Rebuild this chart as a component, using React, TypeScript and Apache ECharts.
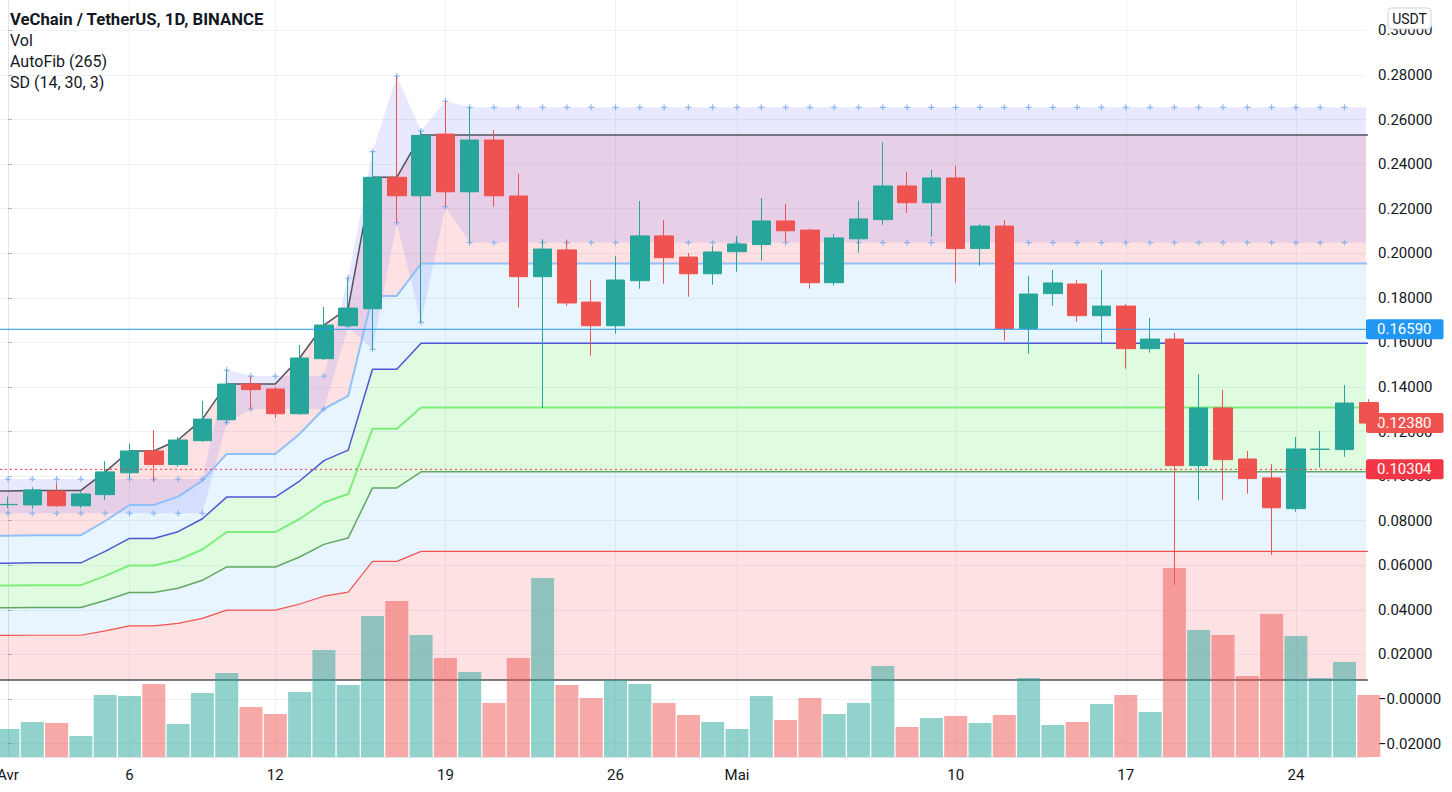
import React, { useEffect, useRef } from "react";
import * as echarts from "echarts";

const TITLE = "VeChain / TetherUS, 1D, BINANCE";
const LEGEND_LINES = ["Vol", "AutoFib (265)", "SD (14, 30, 3)"];

// x = day offset from 1 April 2021
const X_TICKS = [0, 5, 11, 18, 25, 30, 39, 46, 53];
const X_TICK_LABELS = ["Avr", "6", "12", "19", "26", "Mai", "10", "17", "24"];
const Y_TICKS = [-0.02, 0, 0.02, 0.04, 0.06, 0.08, 0.1, 0.12, 0.14, 0.16, 0.18, 0.2, 0.22, 0.24, 0.26, 0.28, 0.3];

// daily candles, 1 April .. 27 May 2021
const OPEN = [0.0872, 0.0871, 0.0933, 0.0867, 0.0917, 0.1015, 0.1113, 0.1052, 0.1159, 0.1253, 0.1413, 0.1391, 0.128, 0.1527, 0.1675, 0.1751, 0.2341, 0.2258, 0.2535, 0.2276, 0.2508, 0.2257, 0.1895, 0.2015, 0.1781, 0.1675, 0.1877, 0.2078, 0.1983, 0.1908, 0.2007, 0.2039, 0.2145, 0.2104, 0.1868, 0.2065, 0.2151, 0.2302, 0.2227, 0.2338, 0.2021, 0.2122, 0.1662, 0.1819, 0.1862, 0.172, 0.1763, 0.1572, 0.1615, 0.1047, 0.1306, 0.1077, 0.0992, 0.0854, 0.112, 0.1119, 0.133];
const CLOSE = [0.0873, 0.0938, 0.0867, 0.092, 0.1019, 0.1113, 0.1052, 0.1162, 0.1256, 0.1413, 0.1388, 0.128, 0.153, 0.1678, 0.1754, 0.2341, 0.2258, 0.2529, 0.2276, 0.2508, 0.2258, 0.1895, 0.2019, 0.1777, 0.1675, 0.188, 0.2078, 0.198, 0.1908, 0.2006, 0.2042, 0.2145, 0.2101, 0.1868, 0.2069, 0.2154, 0.2302, 0.2227, 0.2338, 0.2021, 0.2122, 0.1662, 0.1817, 0.1867, 0.172, 0.1763, 0.1572, 0.1615, 0.1047, 0.1306, 0.1074, 0.0989, 0.0858, 0.1122, 0.1121, 0.1328, 0.1238];
const HIGH = [0.0908, 0.095, 0.0971, 0.0931, 0.1067, 0.1147, 0.1207, 0.1176, 0.1337, 0.1476, 0.1449, 0.1401, 0.1588, 0.176, 0.1889, 0.2456, 0.2795, 0.2549, 0.2683, 0.2655, 0.2553, 0.2356, 0.2063, 0.206, 0.188, 0.1988, 0.2235, 0.2149, 0.2001, 0.2033, 0.2078, 0.2248, 0.2221, 0.211, 0.2087, 0.2235, 0.2499, 0.2365, 0.2374, 0.2392, 0.2131, 0.2149, 0.1898, 0.1925, 0.188, 0.1925, 0.1772, 0.171, 0.1642, 0.1458, 0.1387, 0.1113, 0.1054, 0.1176, 0.1203, 0.1409, 0.1345];
const LOW = [0.0856, 0.0853, 0.0863, 0.0856, 0.0893, 0.0989, 0.0975, 0.1042, 0.1153, 0.1238, 0.13, 0.1262, 0.1275, 0.1521, 0.1671, 0.1569, 0.2137, 0.169, 0.2209, 0.2048, 0.2209, 0.1756, 0.1306, 0.1763, 0.1541, 0.1639, 0.1841, 0.1864, 0.1805, 0.1859, 0.1917, 0.1967, 0.2052, 0.1841, 0.1855, 0.2003, 0.2128, 0.2182, 0.2074, 0.1868, 0.1944, 0.1608, 0.1549, 0.1765, 0.1693, 0.1599, 0.1482, 0.1554, 0.0512, 0.0893, 0.0893, 0.0921, 0.0647, 0.084, 0.1038, 0.1087, 0.1225];
// volume, millions of VET
const VOLUME_M = [140, 175, 170, 105, 310, 305, 365, 165, 320, 420, 250, 215, 325, 535, 360, 705, 780, 610, 495, 425, 270, 495, 895, 360, 295, 385, 365, 270, 210, 175, 140, 305, 185, 295, 215, 270, 455, 150, 195, 205, 170, 210, 395, 160, 175, 265, 310, 225, 945, 635, 610, 405, 715, 605, 395, 475, 310];
const VOLUME_AXIS_MAX = 3785;

// indicator values, 31 March .. 27 May 2021
const FIB_HIGH = [0.0933, 0.0933, 0.0936, 0.0936, 0.0936, 0.1019, 0.1113, 0.1113, 0.1162, 0.1256, 0.1413, 0.1413, 0.1413, 0.153, 0.1678, 0.1754, 0.2341, 0.2341,
  0.2531, 0.2531, 0.2531, 0.2531, 0.2531, 0.2531, 0.2531, 0.2531, 0.2531, 0.2531, 0.2531, 0.2531, 0.2531, 0.2531, 0.2531, 0.2531, 0.2531, 0.2531, 0.2531, 0.2531, 0.2531, 0.2531,
  0.2531, 0.2531, 0.2531, 0.2531, 0.2531, 0.2531, 0.2531, 0.2531, 0.2531, 0.2531, 0.2531, 0.2531, 0.2531, 0.2531, 0.2531, 0.2531, 0.2531, 0.2531];
const FIB_LOW = 0.00853;
const FIB_RATIOS = [0, 0.236, 0.382, 0.5, 0.618, 0.764, 1];
const RANGE_UPPER = [0.0987, 0.0987, 0.0987, 0.0987, 0.0987, 0.0987, 0.0987, 0.0987, 0.0987, 0.0987, 0.1476, 0.1449, 0.1449, 0.1449, 0.1449, 0.1889, 0.2456, 0.2795, 0.2549, 0.2683,
  0.2655, 0.2655, 0.2655, 0.2655, 0.2655, 0.2655, 0.2655, 0.2655, 0.2655, 0.2655, 0.2655, 0.2655, 0.2655, 0.2655, 0.2655, 0.2655, 0.2655, 0.2655, 0.2655,
  0.2655, 0.2655, 0.2655, 0.2655, 0.2655, 0.2655, 0.2655, 0.2655, 0.2655, 0.2655, 0.2655, 0.2655, 0.2655, 0.2655, 0.2655, 0.2655, 0.2655, 0.2655, 0.2655];
const RANGE_LOWER = [0.0833, 0.0833, 0.0833, 0.0833, 0.0833, 0.0833, 0.0833, 0.0833, 0.0833, 0.0833, 0.124, 0.1301, 0.1301, 0.1301, 0.1301, 0.1671, 0.1569, 0.2137, 0.169, 0.2209,
  0.2048, 0.2048, 0.2048, 0.2048, 0.2048, 0.2048, 0.2048, 0.2048, 0.2048, 0.2048, 0.2048, 0.2048, 0.2048, 0.2048, 0.2048, 0.2048, 0.2048, 0.2048, 0.2048,
  0.2048, 0.2048, 0.2048, 0.2048, 0.2048, 0.2048, 0.2048, 0.2048, 0.2048, 0.2048, 0.2048, 0.2048, 0.2048, 0.2048, 0.2048, 0.2048, 0.2048, 0.2048, 0.2048];

// horizontal price lines: drawn line (true) or label only (false)
const PRICE_LINES = [0.1659, 0.10304, 0.1238];
const PRICE_LINE_VISIBLE = [true, true, false];

const FONT = "Roboto, 'Noto Sans', sans-serif";
const TEXT = "#131722";
const UP = "#26a69a";
const DOWN = "#ef5350";
const FIB_LINE_COLORS = ["#50535e", "#ef5350", "#62a862", "#7ced7a", "#4d57d6", "#90bff9", "#50535e"];
const FIB_LINE_WIDTHS = [1.5, 1.2, 1.5, 2, 1.5, 2, 1.5];
const FIB_FILL_COLORS = ["", "rgba(242,54,69,0.15)", "rgba(33,150,243,0.1)", "rgba(0,230,0,0.12)", "rgba(0,230,0,0.12)", "rgba(33,150,243,0.1)", "rgba(242,54,69,0.15)"];
const RANGE_FILL = "rgba(126,130,250,0.18)";
const PRICE_COLORS = ["#2196f3", "#f23645", "#ef5350"];
const PRICE_DASH: any[] = ["solid", [2, 3], "solid"];
const PLUS = "path://M2,0H3V2H5V3H3V5H2V3H0V2H2Z";

function fmtPrice(v: number) {
  if (Math.abs(v) < 1e-9) return "\u22120.00000";
  return v < 0 ? "\u2212" + Math.abs(v).toFixed(5) : v.toFixed(5);
}

function buildOption() {
  const days = OPEN.map((_, i) => i);
  const indDays = FIB_HIGH.map((_, i) => i - 1);
  const levels = FIB_RATIOS.map((r) => FIB_HIGH.map((h) => FIB_LOW + r * (h - FIB_LOW)));
  const xMin = -0.329;
  const xMax = 55.885;

  const fibLineSeries = levels.map((lv, k) => ({
    type: "line",
    symbol: "none",
    silent: true,
    z: 2,
    data: indDays.map((d, i) => [d, lv[i]]),
    lineStyle: { color: FIB_LINE_COLORS[k], width: FIB_LINE_WIDTHS[k] },
  }));

  const fillSeries = {
    type: "custom",
    coordinateSystem: "cartesian2d",
    silent: true,
    clip: true,
    z: 1,
    data: [[0, 0]],
    encode: { x: 0, y: 1 },
    renderItem: (_p: any, api: any) => {
      const band = (top: number[], bottom: number[], fill: string) => ({
        type: "polygon",
        shape: {
          points: [
            ...indDays.map((d, i) => api.coord([d, top[i]])),
            ...indDays.map((d, i) => api.coord([d, bottom[i]])).reverse(),
          ],
        },
        style: { fill },
      });
      const children: any[] = [];
      for (let k = 1; k < levels.length; k++) children.push(band(levels[k], levels[k - 1], FIB_FILL_COLORS[k]));
      children.push(band(RANGE_UPPER, RANGE_LOWER, RANGE_FILL));
      return { type: "group", children };
    },
  };

  const priceLineSeries = PRICE_LINES.filter((_, i) => PRICE_LINE_VISIBLE[i]).map((v) => {
    const i = PRICE_LINES.indexOf(v);
    return {
      type: "line",
      symbol: "none",
      silent: true,
      z: 6,
      data: [[xMin, v], [xMax, v]],
      lineStyle: { color: PRICE_COLORS[i], type: PRICE_DASH[i], width: 1 },
    };
  });

  const priceLabelSeries = PRICE_LINES.map((v, i) => ({
    type: "line",
    data: [],
    clip: false,
    silent: true,
    z: 7,
    markLine: {
      symbol: ["none", "none"],
      silent: true,
      animation: false,
      precision: 5,
      lineStyle: { color: "rgba(0,0,0,0)", width: 1 },
      label: {
        show: true,
        position: "end",
        distance: 0,
        formatter: () => v.toFixed(5),
        backgroundColor: PRICE_COLORS[i],
        color: "#ffffff",
        fontSize: 15,
        fontFamily: FONT,
        padding: [3, 12, 2, 11],
        lineHeight: 15,
        borderRadius: 2,
      },
      data: [{ yAxis: v }],
    },
  }));

  return {
    animation: false,
    backgroundColor: "#ffffff",
    grid: { left: 0, right: 86, top: 0, bottom: 35, containLabel: false, outerBoundsMode: "none" },
    xAxis: {
      type: "value",
      min: xMin,
      max: xMax,
      axisLine: { show: true, onZero: false, lineStyle: { color: "#e0e3eb" } },
      axisTick: { show: false, customValues: X_TICKS },
      axisLabel: {
        customValues: X_TICKS,
        color: TEXT,
        fontSize: 15,
        fontFamily: FONT,
        margin: 10,
        formatter: (v: number) => X_TICK_LABELS[X_TICKS.indexOf(Math.round(v))] ?? "",
      },
      splitLine: { show: true, lineStyle: { color: "#eef1f6", width: 1 } },
    },
    yAxis: [
      {
        type: "value",
        position: "right",
        min: -0.02603,
        max: 0.31365,
        axisLine: { show: true, lineStyle: { color: "#e0e3eb" } },
        axisTick: { show: true, length: 4, customValues: Y_TICKS, lineStyle: { color: "#b2b5be" } },
        axisLabel: { customValues: Y_TICKS, color: TEXT, fontSize: 15, fontFamily: FONT, margin: 12, formatter: (v: number) => fmtPrice(v) },
        splitLine: { show: true, lineStyle: { color: "#eef1f6", width: 1 } },
      },
      { type: "value", min: 0, max: VOLUME_AXIS_MAX, show: false, splitLine: { show: false }, axisTick: { show: false }, axisLabel: { show: false }, axisLine: { show: false } },
    ],
    series: [
      fillSeries,
      ...fibLineSeries,
      {
        type: "scatter",
        symbol: PLUS,
        symbolSize: 6,
        silent: true,
        z: 3,
        itemStyle: { color: "#74a9ef" },
        data: [...indDays.map((d, i) => [d, RANGE_UPPER[i]]), ...indDays.map((d, i) => [d, RANGE_LOWER[i]])],
      },
      {
        type: "bar",
        yAxisIndex: 1,
        barWidth: 23,
        silent: true,
        z: 4,
        data: days.map((d) => ({
          value: [d, VOLUME_M[d]],
          itemStyle: { color: CLOSE[d] >= OPEN[d] ? "rgba(38,166,154,0.5)" : "rgba(239,83,80,0.5)" },
        })),
      },
      {
        type: "candlestick",
        barWidth: 19,
        silent: true,
        z: 5,
        encode: { x: 0, y: [1, 2, 3, 4] },
        data: days.map((d) => [d, OPEN[d], CLOSE[d], LOW[d], HIGH[d]]),
        itemStyle: { color: UP, color0: DOWN, borderColor: UP, borderColor0: DOWN, borderWidth: 1 },
      },
      ...priceLineSeries,
      ...priceLabelSeries,
    ],
    graphic: [
      { type: "text", left: 10, top: 11, z: 100, style: { text: TITLE, font: `bold 16.7px ${FONT}`, fill: TEXT } },
      ...LEGEND_LINES.map((t, i) => ({ type: "text", left: 10, top: 32 + 21 * i, z: 100, style: { text: t, font: `16px ${FONT}`, fill: TEXT } })),
      {
        type: "group",
        x: 1388,
        y: 8,
        z: 100,
        children: [
          { type: "rect", z: 100, shape: { x: 0, y: 0, width: 43, height: 21, r: 3 }, style: { fill: "#ffffff", stroke: "#d1d4dc", lineWidth: 1 } },
          { type: "text", z: 101, x: 21.5, y: 10.5, style: { text: "USDT", font: `14px ${FONT}`, fill: TEXT, align: "center", verticalAlign: "middle" } },
        ],
      },
    ],
  };
}

export default function App() {
  const ref = useRef<HTMLDivElement>(null);
  useEffect(() => {
    const chart = echarts.init(ref.current!, null, { renderer: "svg" });
    chart.setOption(buildOption() as any);
    return () => chart.dispose();
  }, []);
  return <div ref={ref} style={{ position: "fixed", left: 0, top: 0, width: 1452, height: 792, background: "#fff" }} />;
}
